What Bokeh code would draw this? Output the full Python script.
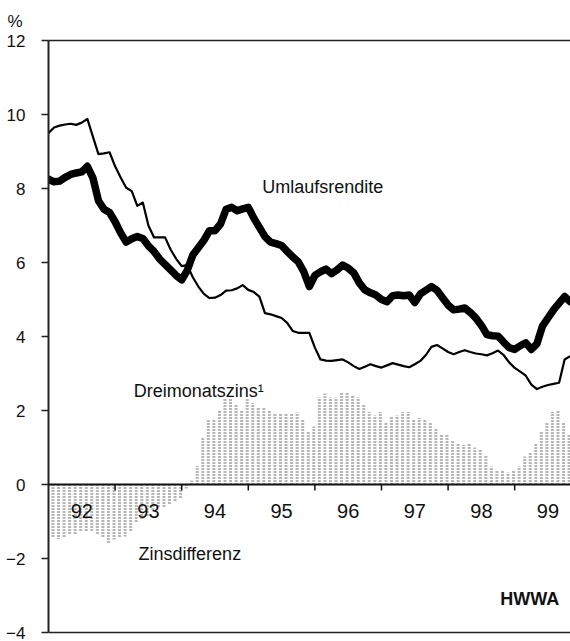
from bokeh.plotting import figure
from bokeh.models import FixedTicker, LinearAxis, Span, ColumnDataSource
from bokeh.core.properties import value
from bokeh.embed import file_html
from bokeh.resources import INLINE

# ---------------- data (monthly, Jan 1992 onwards) ----------------
start_year = 1992

umlaufsrendite = [
    8.25, 8.18, 8.20, 8.30, 8.38, 8.42, 8.45, 8.60, 8.29, 7.67, 7.44, 7.35,
    7.10, 6.80, 6.55, 6.64, 6.70, 6.65, 6.45, 6.30, 6.10, 5.95, 5.80, 5.65,
    5.53, 5.79, 6.20, 6.40, 6.60, 6.86, 6.86, 7.04, 7.44, 7.49, 7.40, 7.45,
    7.49, 7.20, 6.95, 6.70, 6.55, 6.51, 6.46, 6.30, 6.15, 6.02, 5.75, 5.35,
    5.65, 5.75, 5.82, 5.70, 5.80, 5.93, 5.85, 5.72, 5.45, 5.26, 5.18, 5.12,
    5.00, 4.94, 5.10, 5.12, 5.10, 5.12, 4.92, 5.15, 5.25, 5.35, 5.25, 5.05,
    4.85, 4.72, 4.74, 4.77, 4.65, 4.50, 4.30, 4.05, 4.02, 4.01, 3.85, 3.70,
    3.65, 3.75, 3.83, 3.65, 3.80, 4.28, 4.50, 4.72, 4.90, 5.08, 4.94,
]

dreimonatszins = [
    9.50, 9.65, 9.70, 9.73, 9.75, 9.72, 9.78, 9.88, 9.40, 8.93, 8.95, 8.98,
    8.60, 8.30, 8.02, 7.93, 7.53, 7.62, 7.00, 6.68, 6.68, 6.68, 6.35, 6.10,
    5.90, 5.93, 5.60, 5.35, 5.15, 5.04, 5.05, 5.12, 5.24, 5.25, 5.30, 5.39,
    5.26, 5.20, 5.08, 4.63, 4.60, 4.55, 4.50, 4.37, 4.15, 4.10, 4.10, 4.10,
    3.70, 3.38, 3.35, 3.34, 3.36, 3.38, 3.30, 3.20, 3.12, 3.18, 3.25, 3.20,
    3.16, 3.22, 3.28, 3.24, 3.20, 3.17, 3.25, 3.34, 3.50, 3.72, 3.77, 3.68,
    3.58, 3.52, 3.58, 3.63, 3.58, 3.54, 3.52, 3.49, 3.55, 3.62, 3.50, 3.30,
    3.15, 3.05, 2.94, 2.70, 2.58, 2.64, 2.69, 2.72, 2.75, 3.38, 3.47,
]

zinsdifferenz = [
    -1.45, -1.47, -1.42, -1.38, -1.33, -1.30, -1.28, -1.30, -1.35, -1.45, -1.58, -1.48,
    -1.45, -1.40, -1.30, -1.05, -0.95, -0.85, -0.72, -0.65, -0.62, -0.55, -0.45, -0.35,
    -0.10, 0.10, 0.50, 1.30, 1.78, 1.75, 2.00, 2.30, 2.30, 2.15, 2.00, 2.35,
    2.20, 2.10, 2.10, 2.00, 1.90, 1.90, 1.90, 1.90, 1.95, 1.75, 1.45, 1.56,
    2.36, 2.45, 2.36, 2.36, 2.50, 2.50, 2.40, 2.36, 2.18, 1.96, 1.87, 1.96,
    1.69, 1.83, 1.87, 1.96, 1.96, 1.74, 1.80, 1.76, 1.65, 1.53, 1.35, 1.33,
    1.17, 1.11, 1.07, 1.11, 0.99, 0.96, 0.78, 0.49, 0.37, 0.37, 0.33, 0.35,
    0.49, 0.75, 0.87, 1.11, 1.43, 1.65, 1.96, 2.03, 1.69, 1.38,
]

years = [1992, 1993, 1994, 1995, 1996, 1997, 1998, 1999]
year_labels = ["92", "93", "94", "95", "96", "97", "98", "99"]
y_ticks = [-4, -2, 0, 2, 4, 6, 8, 10, 12]

FONT = "Liberation Sans"

# ---------------- derived positions ----------------
x_line = [start_year + m / 12 for m in range(len(umlaufsrendite))]
x_bar = [start_year + (m + 0.8) / 12 for m in range(len(zinsdifferenz))]
year_bounds = years[1:]

p = figure(
    width=570, height=641,
    x_range=(1992, 1999.838), y_range=(-4, 12),
    output_backend="svg", toolbar_location=None,
    min_border_left=48, min_border_right=0, min_border_top=38, min_border_bottom=9,
    outline_line_color=None, background_fill_color="white",
    title="%",
)
p.grid.visible = False

# unit label as title, top-left
p.title.align = "left"
p.title.offset = -41
p.title.text_font = FONT
p.title.text_font_size = "17px"
p.title.text_font_style = "normal"
p.title.text_color = "#111111"
p.title.standoff = 19

# bottom axis (just a line)
p.xaxis.ticker = FixedTicker(ticks=[])
p.xaxis.axis_line_width = 1.5
p.xaxis.axis_line_color = "#222222"
p.xaxis.major_label_text_font_size = "0px"
p.xaxis.major_tick_line_color = None
p.xaxis.minor_tick_line_color = None
p.xaxis.major_label_standoff = 0

top_axis = LinearAxis(ticker=FixedTicker(ticks=[]), axis_line_width=1.5, axis_line_color="#222222",
                      major_label_text_font_size="0px", major_tick_line_color=None,
                      minor_tick_line_color=None, major_label_standoff=0)
p.add_layout(top_axis, "above")

# left axis
p.yaxis.ticker = FixedTicker(ticks=y_ticks)
p.yaxis.axis_line_width = 2
p.yaxis.axis_line_color = "#222222"
p.yaxis.major_tick_in = 0
p.yaxis.major_tick_out = 7
p.yaxis.major_tick_line_width = 1.5
p.yaxis.major_tick_line_color = "#222222"
p.yaxis.minor_tick_line_color = None
p.yaxis.major_label_text_font = FONT
p.yaxis.major_label_text_font_size = "17px"
p.yaxis.major_label_text_color = "#111111"
p.yaxis.major_label_standoff = 16
p.yaxis.major_label_overrides = {-2: "\u22122", -4: "\u22124"}

# bars: Zinsdifferenz (stippled columns)
bars = ColumnDataSource(dict(x=x_bar, y0=[0] * len(zinsdifferenz), y1=zinsdifferenz))
p.segment(x0="x", y0="y0", x1="x", y1="y1", source=bars,
          line_color="#555555", line_width=3, line_dash="1 2", line_alpha=0.85)

# zero line and year ticks
p.add_layout(Span(location=0, dimension="width", line_color="#111111", line_width=2))
p.segment(x0=year_bounds, y0=[0] * len(year_bounds), x1=year_bounds,
          y1=[-0.16] * len(year_bounds), line_color="#111111", line_width=1.5)

# lines
p.line(x_line, dreimonatszins, line_color="black", line_width=2.2, line_join="round")
p.line(x_line, umlaufsrendite, line_color="black", line_width=7.5, line_join="round", line_cap="round")

# year labels
p.text(x=[y + 0.5 for y in years], y=[-0.71] * len(years), text=year_labels,
       text_font=value(FONT), text_font_size="20px", text_align="center",
       text_baseline="middle", text_color="#111111")

# series labels
p.text(x=[1995.21], y=[8.03], text=["Umlaufsrendite"], text_font=value(FONT),
       text_font_size="18px", text_baseline="middle", text_color="#111111")
p.text(x=[1993.28], y=[2.53], text=["Dreimonatszins\u00b9"], text_font=value(FONT),
       text_font_size="18px", text_baseline="middle", text_color="#111111")
p.text(x=[1993.35], y=[-1.88], text=["Zinsdifferenz"], text_font=value(FONT),
       text_font_size="18px", text_baseline="middle", text_color="#111111")
p.text(x=[1999.67], y=[-3.09], text=["HWWA"], text_font=value(FONT),
       text_font_size="18px", text_font_style="bold", text_align="right",
       text_baseline="middle", text_color="#111111")

open("out.html", "w").write(file_html(p, INLINE))
